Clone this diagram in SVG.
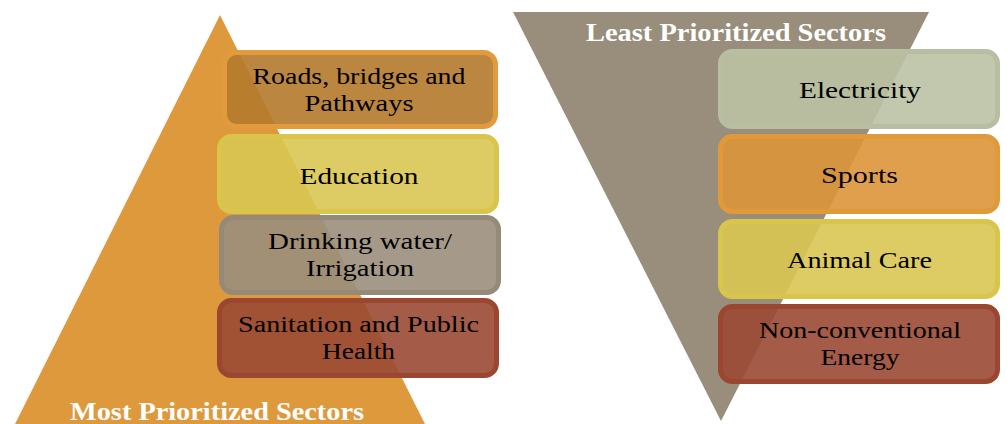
<svg xmlns="http://www.w3.org/2000/svg" width="1007" height="424" viewBox="0 0 1007 424">
<style>
.box{stroke-width:5;fill-opacity:0.9}
.t{font-family:"Liberation Serif","Times New Roman",serif;font-size:24px;fill:#000;text-anchor:middle}
.h{font-family:"Liberation Serif","Times New Roman",serif;font-size:26px;font-weight:bold;fill:#fff;text-anchor:middle}
.orange{fill:#B47A2B;stroke:#E19B3D}
.yellow{fill:#D9C652;stroke:#D9C44C}
.grey{fill:#9B8F7C;stroke:#958A79}
.red{fill:#9A4933;stroke:#9B4631}
.sage{fill:#BBC2A4;stroke:#B8BEA2}
.sport{fill:#DC953A;stroke:#E09A3A}
</style>
<rect width="1007" height="424" fill="#fff"/>
<g id="pyramid">
<polygon points="220,15 12,430 428,430" fill="#DE993D"/>
<text class="h" x="217" y="420" textLength="294" lengthAdjust="spacingAndGlyphs">Most Prioritized Sectors</text>
</g>
<g id="inverted">
<polygon points="513,12 929,12 721,421" fill="#988E7B"/>
<text class="h" x="736" y="41" textLength="300" lengthAdjust="spacingAndGlyphs">Least Prioritized Sectors</text>
</g>
<g id="roads">
<rect class="box orange" x="224.5" y="52.5" width="271" height="74" rx="12"/>
<text class="t" x="359" y="84" textLength="213" lengthAdjust="spacingAndGlyphs">Roads, bridges and</text>
<text class="t" x="359" y="111" textLength="109" lengthAdjust="spacingAndGlyphs">Pathways</text>
</g>
<g id="education">
<rect class="box yellow" x="219.5" y="136.5" width="277" height="75" rx="12"/>
<text class="t" x="359" y="184" textLength="119" lengthAdjust="spacingAndGlyphs">Education</text>
</g>
<g id="drinking">
<rect class="box grey" x="221.5" y="217.5" width="277" height="75" rx="12"/>
<text class="t" x="360" y="249" textLength="184" lengthAdjust="spacingAndGlyphs">Drinking water/</text>
<text class="t" x="360" y="276" textLength="108" lengthAdjust="spacingAndGlyphs">Irrigation</text>
</g>
<g id="sanitation">
<rect class="box red" x="219.5" y="300.5" width="277" height="75" rx="12"/>
<text class="t" x="358.5" y="332" textLength="241" lengthAdjust="spacingAndGlyphs">Sanitation and Public</text>
<text class="t" x="358.5" y="359" textLength="73" lengthAdjust="spacingAndGlyphs">Health</text>
</g>
<g id="electricity">
<rect class="box sage" x="720.5" y="51.5" width="277" height="75" rx="12"/>
<text class="t" x="860" y="98" textLength="122" lengthAdjust="spacingAndGlyphs">Electricity</text>
</g>
<g id="sports">
<rect class="box sport" x="720.5" y="136.5" width="277" height="75" rx="12"/>
<text class="t" x="859.5" y="183" textLength="77" lengthAdjust="spacingAndGlyphs">Sports</text>
</g>
<g id="animal">
<rect class="box yellow" x="720.5" y="221.5" width="277" height="75" rx="12"/>
<text class="t" x="859.5" y="268" textLength="145" lengthAdjust="spacingAndGlyphs">Animal Care</text>
</g>
<g id="nonconv">
<rect class="box red" x="720.5" y="306.5" width="277" height="75" rx="12"/>
<text class="t" x="860" y="338" textLength="202" lengthAdjust="spacingAndGlyphs">Non-conventional</text>
<text class="t" x="860" y="365" textLength="79" lengthAdjust="spacingAndGlyphs">Energy</text>
</g>
<g id="connectors"/>
</svg>
